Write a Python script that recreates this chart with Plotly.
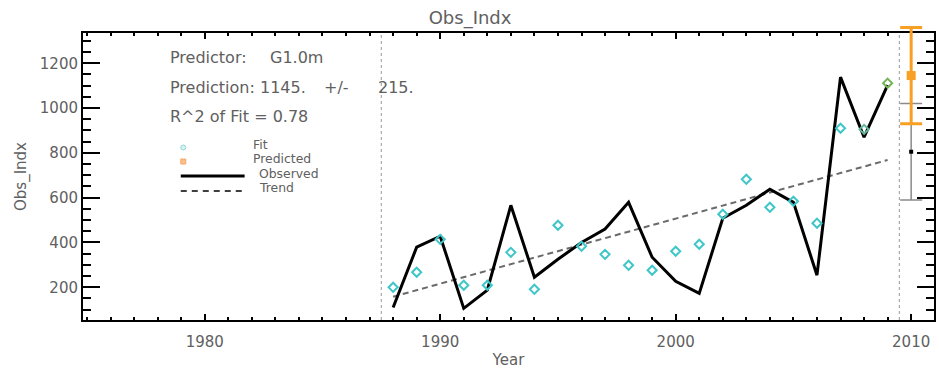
import plotly.graph_objects as go

# ---- data ----
years = list(range(1988, 2010))
observed = [110, 379, 428, 106, 187, 566, 245, 325, 400, 460, 579, 334,
            227, 173, 508, 566, 638, 579, 254, 1138, 870, 1102]
fitted = [200, 267, 414, 209, 209, 356, 191, 477, 383, 347, 298, 276,
          361, 392, 526, 682, 557, 584, 486, 910, 905, 1111]
fit_colors = ["#3fc6c9"] * 20 + ["#5fb99a", "#74b455"]

trend_years = [1988, 2009]
trend_vals = [158, 768]

pred_year = [2010]
prediction = [1145]
pred_err = [215]
base_mean = [805]
base_err = [215]

period_bounds = [1987.5, 2009.5]

x_range = [1974.83, 2010.97]
y_range = [54, 1335]

TXT = "#606060"
FONT = "DejaVu Sans"

W, H = 939, 373
L, R, B = 83, 3, 53
FRAME_TOP = 33          # top edge of the framed plot
TOP = 8                 # top of the unclipped area used by the error bars
PW = W - L - R
PH = H - B - TOP
frame_frac = (H - B - FRAME_TOP) / PH

# the error-bar axis shares the scale of the main y axis but reaches higher
y2_range = [y_range[0], y_range[0] + (y_range[1] - y_range[0]) / frame_frac]


def px(x):
    return (x - L) / PW


def py(y):
    return (H - B - y) / PH


fig = go.Figure()

# trend
fig.add_trace(go.Scatter(x=trend_years, y=trend_vals, mode="lines",
                         line=dict(color="#6a6a6a", width=2, dash="6px,4px"),
                         hoverinfo="skip"))
# observed
fig.add_trace(go.Scatter(x=years, y=observed, mode="lines",
                         line=dict(color="black", width=3)))
# fit
fig.add_trace(go.Scatter(x=years, y=fitted, mode="markers",
                         marker=dict(symbol="diamond-open", size=7,
                                     color=fit_colors,
                                     line=dict(width=2, color=fit_colors))))
# baseline spread
fig.add_trace(go.Scatter(x=pred_year, y=base_mean, mode="markers", yaxis="y2",
                         marker=dict(symbol="square", size=4, color="black"),
                         error_y=dict(type="data", array=base_err, color="#8a8a8a",
                                      thickness=1.5, width=11),
                         cliponaxis=False))
# prediction
fig.add_trace(go.Scatter(x=pred_year, y=prediction, mode="markers", yaxis="y2",
                         marker=dict(symbol="square", size=9, color="#f7a024"),
                         error_y=dict(type="data", array=pred_err, color="#f7a024",
                                      thickness=3, width=11),
                         cliponaxis=False))

# vertical dotted markers for the fit period
for xb in period_bounds:
    fig.add_shape(type="line", xref="x", yref="y domain", x0=xb, x1=xb, y0=0, y1=1,
                  line=dict(color="#aaaaaa", width=1.2, dash="dot"))


def note(text, x, y, size=16):
    fig.add_annotation(text=text, xref="paper", yref="paper", x=px(x), y=py(y),
                       xanchor="left", yanchor="middle", showarrow=False,
                       font=dict(family=FONT, size=size, color=TXT))


# info text
note("Predictor:", 168, 58)
note("G1.0m", 268, 58)
note("Prediction: 1145.", 168, 87)
note("+/-", 323, 87)
note("215.", 377, 87)
note("R^2 of Fit = 0.78", 168, 116)

# legend
note("Fit", 251, 144, 12.4)
note("Predicted", 251, 158.5, 12.4)
note("Observed", 257, 173, 12.4)
note("Trend", 257, 187.5, 12.4)

fig.add_shape(type="circle", xref="paper", yref="paper",
              x0=px(181), x1=px(186), y0=py(145), y1=py(150),
              line=dict(color="#8fd6da", width=1), fillcolor="#d8f2f3")
fig.add_shape(type="rect", xref="paper", yref="paper",
              x0=px(181), x1=px(186), y0=py(159), y1=py(164),
              line=dict(color="#f7a86a", width=1), fillcolor="#f9c08a")
fig.add_shape(type="line", xref="paper", yref="paper",
              x0=px(181), x1=px(245), y0=py(176), y1=py(176),
              line=dict(color="black", width=3))
fig.add_shape(type="line", xref="paper", yref="paper",
              x0=px(181), x1=px(245), y0=py(191), y1=py(191),
              line=dict(color="black", width=1.6, dash="6px,5px"))

axis_common = dict(showline=True, linecolor="black", linewidth=2, mirror="ticks",
                   ticks="inside", tickcolor="black", tickwidth=2,
                   showgrid=False, zeroline=False,
                   tickfont=dict(family=FONT, size=15, color=TXT))

fig.update_layout(
    xaxis=dict(range=x_range, tick0=1980, dtick=10, ticklen=6, ticklabelstandoff=7,
               minor=dict(ticks="inside", dtick=1, ticklen=3, tickwidth=1.5,
                          tickcolor="black"),
               title=dict(text="Year", font=dict(family=FONT, size=15, color=TXT),
                          standoff=4),
               **axis_common),
    yaxis=dict(range=y_range, domain=[0, frame_frac], tick0=0, dtick=200, ticklen=17,
               minor=dict(ticks="inside", dtick=50, ticklen=8, tickwidth=2,
                          tickcolor="black"),
               title=dict(text="Obs_Indx", font=dict(family=FONT, size=15, color=TXT),
                          standoff=10),
               **axis_common),
    yaxis2=dict(range=y2_range, domain=[0, 1], anchor="x", visible=False,
                showgrid=False, zeroline=False),
    width=W, height=H,
    margin=dict(l=L, r=R, t=TOP, b=B),
    paper_bgcolor="white", plot_bgcolor="rgba(0,0,0,0)",
    showlegend=False,
    title=dict(text="Obs_Indx", x=px(510), xanchor="center", y=1 - 18 / H,
               yanchor="middle", font=dict(family=FONT, size=18, color=TXT)),
)

fig.write_html("out.html")
